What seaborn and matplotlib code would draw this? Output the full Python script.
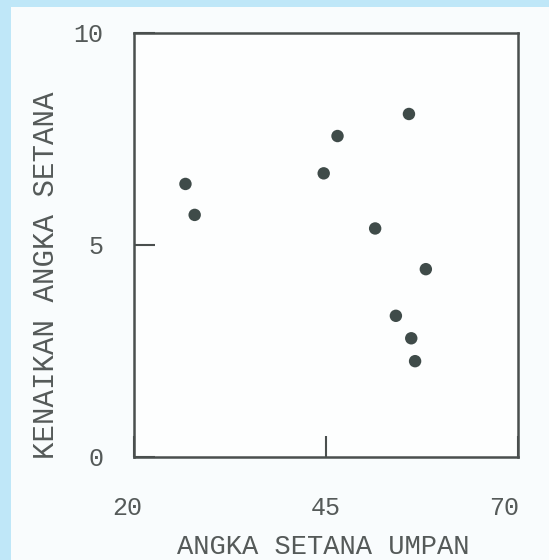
import matplotlib
matplotlib.use("Agg")
import matplotlib.pyplot as plt
import matplotlib.transforms as mtransforms
import seaborn as sns
import pandas as pd
from matplotlib.patches import Rectangle

# Data
feed_cetane = [26.7, 27.9, 44.7, 46.5, 55.8, 51.4, 58.0, 54.1, 56.1, 56.6]
cetane_increase = [6.44, 5.71, 6.69, 7.57, 8.09, 5.39, 4.43, 3.33, 2.80, 2.26]
x_ticks = [20, 45, 70]
y_ticks = [0, 5, 10]
x_label = "ANGKA SETANA UMPAN"
y_label = "KENAIKAN ANGKA SETANA"

df = pd.DataFrame({"x": feed_cetane, "y": cetane_increase})

sns.set_theme(style="white")
plt.rcParams["font.family"] = ["Liberation Mono", "DejaVu Sans Mono"]

ink = "#4a4f4e"
txt = "#555a59"
fig = plt.figure(figsize=(5.49, 5.60), dpi=100)
fig.patch.set_facecolor("#f9fcfd")
# light-blue scan border on the left and top
fig.patches.append(Rectangle((0, 0), 11 / 549, 1, transform=fig.transFigure,
                             facecolor="#bfe7f8", edgecolor="none", zorder=-10))
fig.patches.append(Rectangle((0, 1 - 7 / 560), 1, 7 / 560, transform=fig.transFigure,
                             facecolor="#bfe7f8", edgecolor="none", zorder=-10))

ax = fig.add_axes([134 / 549, 1 - 457 / 560, (518 - 134) / 549, (457 - 33) / 560])
ax.set_facecolor("#fdfefe")
sns.scatterplot(data=df, x="x", y="y", ax=ax, s=80, color="#3f4b49",
                edgecolor="none", legend=False, zorder=3)

ax.set_xlim(20, 70)
ax.set_ylim(0, 10)
ax.set_xticks(x_ticks)
ax.set_yticks(y_ticks)
ax.set_xticklabels([str(v) for v in x_ticks])
ax.set_yticklabels([str(v) for v in y_ticks])
ax.tick_params(axis="both", direction="in", length=15, width=1.5, color=ink,
               labelcolor=txt, labelsize=18, bottom=True, left=True)
ax.tick_params(axis="x", pad=28)
ax.tick_params(axis="y", pad=22)
for s in ax.spines.values():
    s.set_color(ink)
    s.set_linewidth(1.8)
ax.set_xlabel("")
ax.set_ylabel("")

# small horizontal shifts of the x tick labels as in the scan
shifts = [-7, 0, -14]
for lab, dx in zip(ax.get_xticklabels(), shifts):
    lab.set_transform(lab.get_transform() +
                      mtransforms.ScaledTranslation(dx / 100, 0, fig.dpi_scale_trans))

fig.text(323 / 549, 1 - 547 / 560, x_label, ha="center", va="center",
         fontsize=19.5, color=txt)
fig.text(46 / 549, 1 - 275 / 560, y_label, ha="center", va="center",
         rotation=90, fontsize=21, color=txt)

fig.savefig("out.png", dpi=100, facecolor=fig.get_facecolor())
